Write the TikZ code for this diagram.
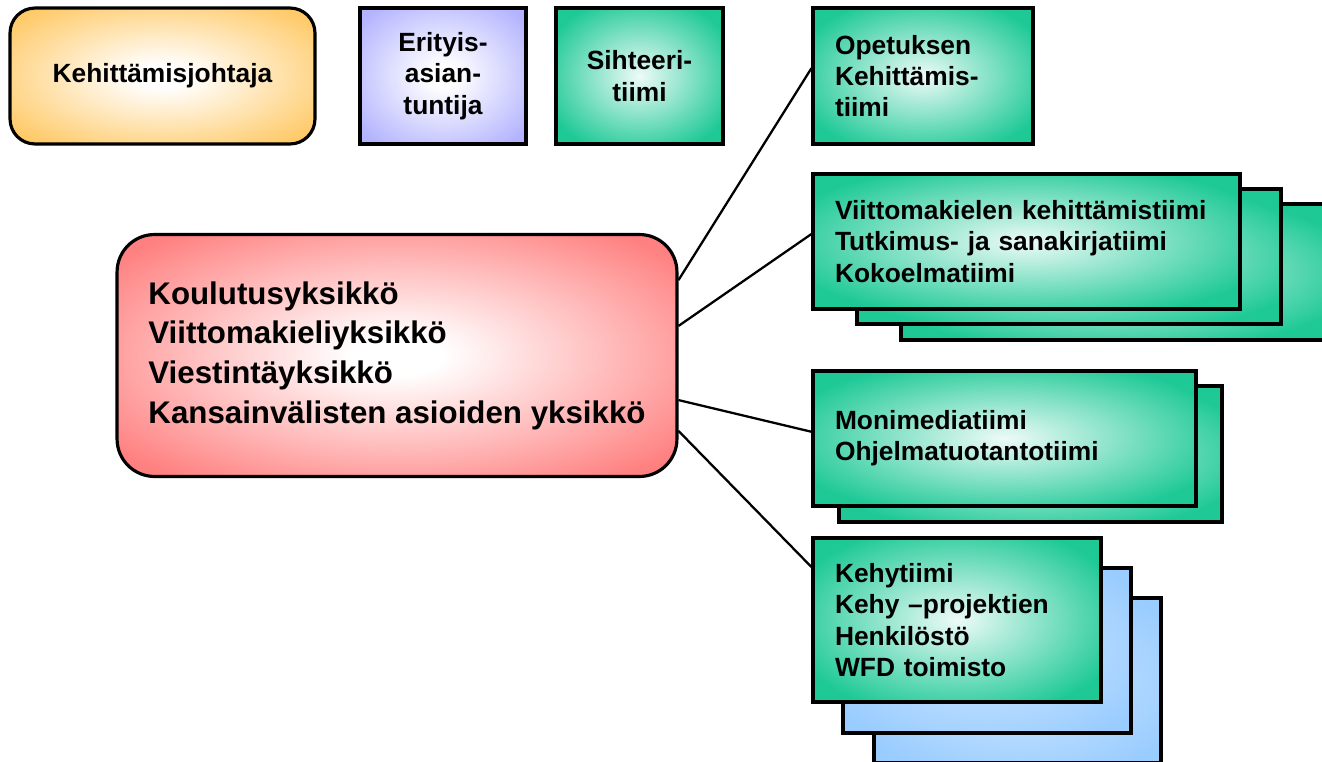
\documentclass[tikz,border=0pt]{standalone}
\usepackage{fontspec}
\setmainfont{Liberation Sans}

% box colours
\definecolor{orangebox}{RGB}{255,201,102}
\definecolor{lilacbox}{RGB}{179,179,255}
\definecolor{tealbox}{RGB}{30,201,150}
\definecolor{redbox}{RGB}{255,128,128}
\definecolor{bluebox}{RGB}{153,204,255}

% glow from the middle of each box
\pgfdeclareradialshading{glowOrange}{\pgfpoint{0bp}{0bp}}{color(0bp)=(white); color(4bp)=(white); color(32bp)=(orangebox); color(50bp)=(orangebox)}
\pgfdeclareradialshading{glowLilac}{\pgfpoint{0bp}{0bp}}{color(0bp)=(white); color(4bp)=(white); color(32bp)=(lilacbox); color(50bp)=(lilacbox)}
\pgfdeclareradialshading{glowTeal}{\pgfpoint{0bp}{0bp}}{color(0bp)=(tealbox!8!white); color(30bp)=(tealbox); color(50bp)=(tealbox)}
\pgfdeclareradialshading{glowRed}{\pgfpoint{0bp}{0bp}}{color(0bp)=(white); color(4bp)=(white); color(32bp)=(redbox); color(50bp)=(redbox)}
\pgfdeclareradialshading{glowBlue}{\pgfpoint{0bp}{0bp}}{color(0bp)=(bluebox!45!white); color(32bp)=(bluebox); color(50bp)=(bluebox)}

\tikzset{
  boxline/.style={draw, line width=1.8pt, shade},
  smalltext/.style={font=\bfseries\fontsize{15}{17.8}\selectfont},
  headbox/.style={boxline, smalltext, align=center, minimum height=2.72cm, inner sep=0pt},
  teambox/.style={boxline, smalltext, shading=glowTeal, align=left, inner xsep=0.44cm, inner ysep=0pt},
  kehybox/.style={boxline, shading=glowBlue, inner sep=0pt},
  link/.style={line width=1.3pt}
}

\begin{document}
\begin{tikzpicture}[x=0.02cm, y=-0.02cm]
	% Picture frame
	\useasboundingbox (0,0) rectangle (1322,761);
	\clip (0,0) rectangle (1322,761);

	% Top row
	\node[headbox, shading=glowOrange, rounded corners=0.5cm, minimum width=6.1cm] (johtaja) at (162.5,76) {Kehittämisjohtaja};
	\node[headbox, shading=glowLilac, minimum width=3.32cm] (asiantuntija) at (443,76) {Erityis-\\asian-\\tuntija};
	\node[headbox, shading=glowTeal, minimum width=3.34cm] (sihteeri) at (639.5,76) {Sihteeri-\\tiimi};

	% Units
	\node[boxline, shading=glowRed, rounded corners=0.75cm, align=left, inner xsep=0.6cm, inner ysep=0pt,
	      minimum width=11.2cm, minimum height=4.84cm, font=\bfseries\fontsize{17.8}{22.6}\selectfont] (units) at (397,355.5)
	      {Koulutusyksikkö\\Viittomakieliyksikkö\\Viestintäyksikkö\\Kansainvälisten asioiden yksikkö};

	% Teams, back sheets first
	\node[teambox, text width=7.6cm, minimum height=2.72cm] (viit3) at (1113,272) {};
	\node[teambox, text width=7.6cm, minimum height=2.7cm] (viit2) at (1069,256.5) {};
	\node[teambox, text width=6.78cm, minimum height=2.72cm] (moni2) at (1030.5,454) {};
	\node[kehybox, minimum width=5.74cm, minimum height=3.3cm] (kehy3) at (1017.5,680.5) {};
	\node[kehybox, minimum width=5.76cm, minimum height=3.3cm] (kehy2) at (987,650.5) {};

	\node[teambox, text width=3.52cm, minimum height=2.72cm] (opet) at (923,76) {Opetuksen\\Kehittämis-\\tiimi};
	\node[teambox, text width=7.66cm, minimum height=2.7cm] (viit) at (1026.5,241.5)
	      {Viittomakielen kehittämistiimi\\Tutkimus- ja sanakirjatiimi\\Kokoelmatiimi};
	\node[teambox, text width=6.78cm, minimum height=2.7cm] (moni) at (1004.5,438.5) {Monimediatiimi\\Ohjelmatuotantotiimi};
	\node[teambox, text width=4.88cm, minimum height=3.28cm] (kehy) at (957,620)
	      {Kehytiimi\\Kehy –projektien\\Henkilöstö\\WFD toimisto};

	% Links from units to teams
	\draw[link] (units.15) -- (opet.176);
	\draw[link] (units.6) -- (viit.178);
	\draw[link] (units.-9) -- (moni.178);
	\draw[link] (units.-15) -- (kehy.160);
\end{tikzpicture}
\end{document}
